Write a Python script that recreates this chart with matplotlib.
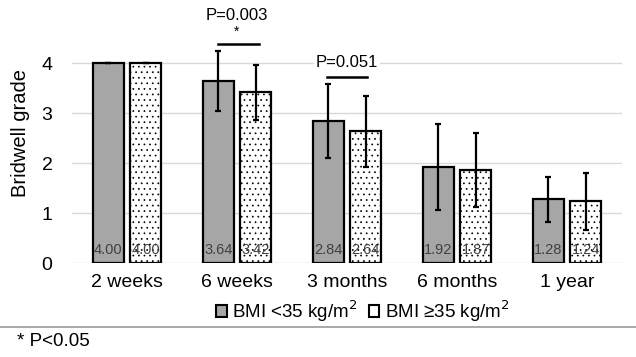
import matplotlib.pyplot as plt
import numpy as np
from matplotlib.patches import Patch

plt.rcParams['font.family'] = ['Liberation Sans', 'DejaVu Sans']
plt.rcParams['hatch.linewidth'] = 0.5
plt.rcParams['hatch.color'] = '#555555'

groups = ['2 weeks', '6 weeks', '3 months', '6 months', '1 year']
bmi_low = [4.00, 3.64, 2.84, 1.92, 1.28]
bmi_high = [4.00, 3.42, 2.64, 1.87, 1.24]
sd_low = [0.0, 0.60, 0.74, 0.86, 0.45]
sd_high = [0.0, 0.55, 0.71, 0.74, 0.57]
labels = ['BMI <35 kg/m$^2$', 'BMI \u226535 kg/m$^2$']

fig = plt.figure(figsize=(6.36, 3.57), dpi=100)
ax = fig.add_axes([72/636, 94/357, 550/636, 250/357 * 5.2 / 5.0])

x = np.arange(len(groups))
w = 0.28
off = 0.17
ax.bar(x - off, bmi_low, w, color='#a6a6a6', edgecolor='black', linewidth=1.6, zorder=3)
ax.bar(x + off, bmi_high, w, color='white', edgecolor='black', linewidth=1.6,
       hatch='...', zorder=3)
ax.errorbar(x - off, bmi_low, yerr=sd_low, fmt='none', ecolor='black', elinewidth=1.6,
            capsize=2.5, capthick=1.6, zorder=4)
ax.errorbar(x + off, bmi_high, yerr=sd_high, fmt='none', ecolor='black', elinewidth=1.6,
            capsize=2.5, capthick=1.6, zorder=4)

for i in range(len(groups)):
    ax.text(x[i] - off, 0.27, f'{bmi_low[i]:.2f}', ha='center', va='center',
            fontsize=10.5, color='#404040', zorder=5)
    ax.text(x[i] + off, 0.27, f'{bmi_high[i]:.2f}', ha='center', va='center',
            fontsize=10.5, color='#404040', zorder=5)

# significance markers
ax.plot([1 - 0.17, 1 + 0.2], [4.38, 4.38], color='black', lw=1.8, clip_on=False)
ax.text(1.0, 4.62, '*', ha='center', va='center', fontsize=10)
ax.text(1.0, 4.96, 'P=0.003', ha='center', va='center', fontsize=12)
ax.plot([2 - 0.18, 2 + 0.18], [3.72, 3.72], color='black', lw=1.8, clip_on=False)
ax.text(2.0, 4.02, 'P=0.051', ha='center', va='center', fontsize=12,
        bbox=dict(facecolor='white', edgecolor='none', pad=1), zorder=5)

ax.set_xlim(-0.5, 4.5)
ax.set_ylim(0, 5.2)
ax.set_yticks([0, 1, 2, 3, 4])
ax.set_xticks(x)
ax.set_xticklabels(groups, fontsize=14)
ax.tick_params(axis='y', labelsize=14, length=0, pad=14)
ax.tick_params(axis='x', length=0, pad=8)
ax.yaxis.grid(True, color='#d9d9d9', linewidth=1)
ax.set_axisbelow(True)
for s in ax.spines.values():
    s.set_visible(False)
ax.set_ylabel('Bridwell grade', fontsize=14.5, labelpad=8)

handles = [Patch(facecolor='#a6a6a6', edgecolor='black', linewidth=1.5),
           Patch(facecolor='white', edgecolor='black', linewidth=1.5)]
fig.legend(handles, labels, loc='center', bbox_to_anchor=(363/636, 1 - 311/357),
           ncol=2, frameon=False, fontsize=13.5, handlelength=0.55, handleheight=0.55,
           handletextpad=0.3, columnspacing=0.6, borderpad=0)

fig.add_artist(plt.Line2D([0, 1], [1 - 327/357, 1 - 327/357], color='#999999', lw=1.2))
fig.text(17/636, 1 - 342/357, '* P<0.05', fontsize=13.5, va='center', ha='left')

fig.savefig('out.png', dpi=100)
